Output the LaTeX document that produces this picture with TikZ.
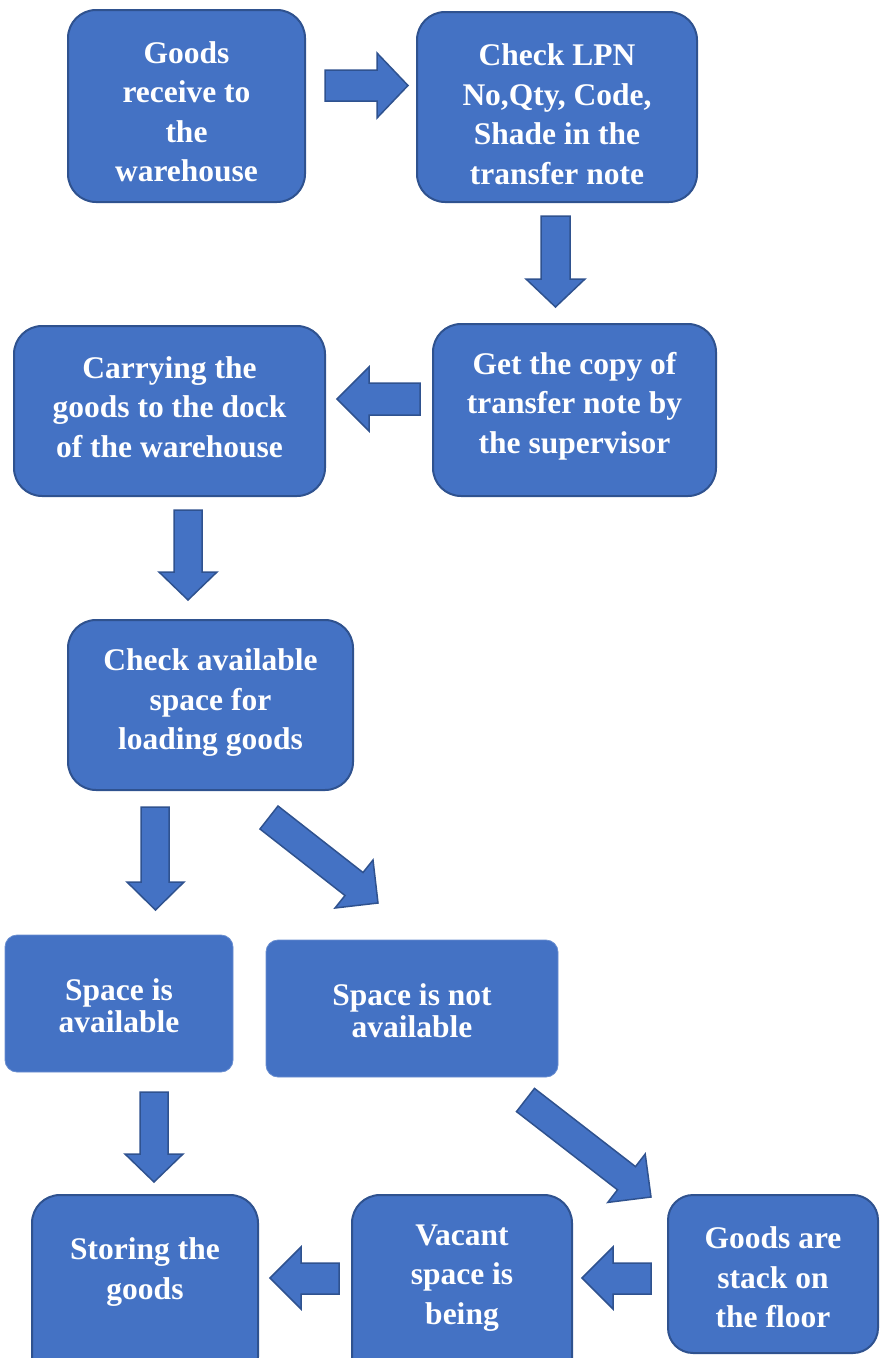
\documentclass[tikz,border=0pt]{standalone}
\usepackage{fontspec}
\setmainfont{Liberation Serif}
\definecolor{boxfill}{RGB}{68,114,196}
\definecolor{boxline}{RGB}{47,82,143}
\begin{document}
\begin{tikzpicture}[x=1pt,y=-1pt,
  stepbox/.style={draw=boxline, line width=2pt, fill=boxfill, rounded corners=28pt, inner sep=0pt},
  flatbox/.style={draw=boxfill!80!white, line width=0.8pt, fill=boxfill, rounded corners=12pt, inner sep=0pt},
  boxtext/.style={text=white, font=\bfseries\fontsize{31.5}{39.5}\selectfont, align=center, inner sep=0pt},
  smalltext/.style={text=white, font=\bfseries\fontsize{31.5}{32}\selectfont, align=center, inner sep=0pt},
  blockarrow/.style={draw=boxline, line width=1.5pt, fill=boxfill, line join=miter}]
\useasboundingbox (0,0) rectangle (882,1358);
\clip (0,0) rectangle (882,1358);

% boxes
\node[stepbox, minimum width=237pt, minimum height=192pt] (b1) at (186.5,106) {};
\node[stepbox, minimum width=280pt, minimum height=190pt] (b2) at (557,107) {};
\node[stepbox, minimum width=283pt, minimum height=172pt] (b3) at (574.5,410) {};
\node[stepbox, minimum width=311pt, minimum height=170pt] (b4) at (169.5,411) {};
\node[stepbox, minimum width=285pt, minimum height=170pt] (b5) at (210.5,705) {};
\node[flatbox, minimum width=228pt, minimum height=137pt] (b6) at (119,1003.5) {};
\node[flatbox, minimum width=292pt, minimum height=137pt] (b7) at (412,1008.5) {};
\node[stepbox, minimum width=226pt, minimum height=190pt] (b8) at (145,1290) {};
\node[stepbox, minimum width=220pt, minimum height=200pt] (b9) at (462,1295) {};
\node[stepbox, minimum width=210pt, minimum height=158pt, rounded corners=25pt] (b10) at (773,1274) {};

% texts
\node[boxtext] (t1) at (186.5,112) {Goods\\receive to\\the\\warehouse};
\node[boxtext] (t2) at (557,114) {Check LPN\\No,Qty, Code,\\Shade in the\\transfer note};
\node[boxtext] (t3) at (574.5,406) {Get the copy of\\transfer note by\\the supervisor};
\node[boxtext] (t4) at (169.5,407) {Carrying the\\goods to the dock\\of the warehouse};
\node[boxtext] (t5) at (210.5,703) {Check available\\space for\\loading goods};
\node[smalltext] (t6) at (119,1006) {Space is\\available};
\node[smalltext] (t7) at (412,1011) {Space is not\\available};
\node[boxtext] (t8) at (145,1272) {Storing the\\goods};
\node[boxtext] (t9) at (462,1278) {Vacant\\space is\\being};
\node[boxtext] (t10) at (773,1277.5) {Goods are\\stack on\\the floor};

% block arrows
\draw[blockarrow] (325,70) -- (377,70) -- (377,53) -- (408,85.5) -- (377,118) -- (377,101) -- (325,101) -- cycle;
\draw[blockarrow] (541,216) -- (570,216) -- (570,279) -- (585,279) -- (555.5,307) -- (526,279) -- (541,279) -- cycle;
\draw[blockarrow] (420,383) -- (369,383) -- (369,367) -- (337,399) -- (369,431) -- (369,415) -- (420,415) -- cycle;
\draw[blockarrow] (174,510) -- (202,510) -- (202,572) -- (217,572) -- (188,600) -- (159,572) -- (174,572) -- cycle;
\draw[blockarrow] (141,807) -- (169,807) -- (169,882) -- (184,882) -- (155.5,910) -- (127,882) -- (141,882) -- cycle;
\draw[blockarrow] (260,829) -- (278,806) -- (363,872.5) -- (373,860) -- (378,903) -- (335,908) -- (345,895.5) -- cycle;
\draw[blockarrow] (140,1092) -- (168,1092) -- (168,1154) -- (183,1154) -- (154,1182) -- (125,1154) -- (140,1154) -- cycle;
\draw[blockarrow] (516.5,1111.6) -- (534.5,1088.4) -- (635.5,1166.6) -- (645.2,1154) -- (651,1197) -- (607.8,1202.4) -- (617.5,1189.8) -- cycle;
\draw[blockarrow] (339,1263) -- (301,1263) -- (301,1247) -- (270,1278) -- (301,1309) -- (301,1294) -- (339,1294) -- cycle;
\draw[blockarrow] (651,1263) -- (613,1263) -- (613,1247) -- (582,1278) -- (613,1309) -- (613,1294) -- (651,1294) -- cycle;
\end{tikzpicture}
\end{document}
